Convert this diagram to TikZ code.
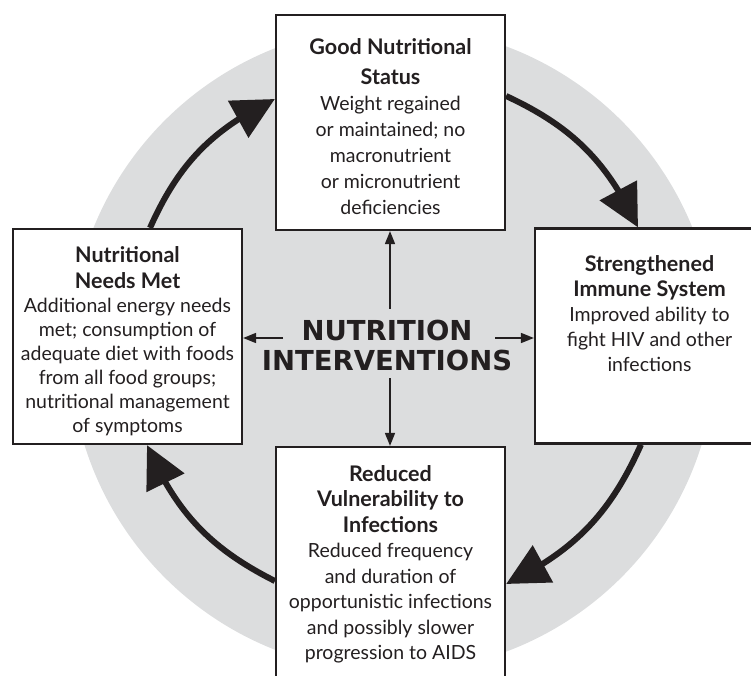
\documentclass[tikz,border=0pt]{standalone}
\usepackage{fontspec}
\setmainfont{Lato}
\newfontfamily\verdanaish{DejaVu Sans}
\usetikzlibrary{arrows.meta, bending, positioning}
\definecolor{ink}{HTML}{231F20}
\definecolor{disc}{HTML}{DCDDDE}
\newcommand\hd[1]{{\fontsize{21.5}{26}\selectfont\bfseries #1}}

\begin{document}
\begin{tikzpicture}[x=1pt, y=1pt,
  box/.style={draw=ink, fill=white, line width=2.2pt, minimum width=229pt, minimum height=215pt},
  txt/.style={align=center, text=ink, inner sep=0pt},
  loop/.style={draw=ink, line width=6pt, -{Triangle[length=42pt, width=41pt]}},
  link/.style={draw=ink, line width=1.6pt, -{Triangle[length=13pt, width=10pt]}}]
  \useasboundingbox (0,0) rectangle (751,675);
  \fill[disc] (393,326) circle[radius=323];

  % the four stages
  \node (status) [box] at (390.5,552.5) {};
  \node (needs) [box] at (127.5,338.5) {};
  \node (immune) [box] at (649.5,339) {};
  \node (vuln) [box, minimum height=250pt] at (390.5,103) {};

  \node (statustxt) [txt, below=24pt of status.north, font=\fontsize{19.5}{26}\selectfont]
    {\hd{Good Nutritional}\\[4pt]\hd{Status}\\Weight regained\\or maintained; no\\macronutrient\\or micronutrient\\deficiencies};
  \node (needstxt) [txt, below=18pt of needs.north, font=\fontsize{19.5}{24}\selectfont]
    {\hd{Nutritional}\\[2pt]\hd{Needs Met}\\Additional energy needs\\met; consumption of\\adequate diet with foods\\from all food groups;\\nutritional management\\of symptoms};
  \node (immunetxt) [txt, below=28pt of immune.north, font=\fontsize{19.5}{25}\selectfont]
    {\hd{Strengthened}\\\hd{Immune System}\\Improved ability to\\fight HIV and other\\infections};
  \node (vulntxt) [txt, below=19pt of vuln.north, font=\fontsize{19.5}{25.5}\selectfont]
    {\hd{Reduced}\\\hd{Vulnerability to}\\\hd{Infections}\\Reduced frequency\\and duration of\\opportunistic infections\\and possibly slower\\progression to AIDS};

  % centre
  \node (core) [txt, font=\verdanaish\bfseries\fontsize{27.5}{30}\selectfont] at (387,330)
    {NUTRITION\\INTERVENTIONS};
  \coordinate (upfoot) at (390,366);
  \coordinate (downfoot) at (390,297);
  \coordinate (leftfoot) at (283,337);
  \coordinate (rightfoot) at (495,337);
  \draw[link] (upfoot) -- (upfoot |- status.south);
  \draw[link] (downfoot) -- (downfoot |- vuln.north);
  \draw[link] (leftfoot) -- (leftfoot -| needs.east);
  \draw[link] (rightfoot) -- (rightfoot -| immune.west);

  % the cycle
  \draw[loop] (150,0 |- needs.north) to[bend left=20] (status.west |- 0,576);
  \draw[loop] (status.east |- 0,579) to[bend left=20] (638,0 |- immune.north);
  \draw[loop] (641,0 |- immune.south) to[bend left=20] (vuln.east |- 0,91);
  \draw[loop] (vuln.west |- 0,94) to[bend left=20] (147,0 |- needs.south);
\end{tikzpicture}
\end{document}
